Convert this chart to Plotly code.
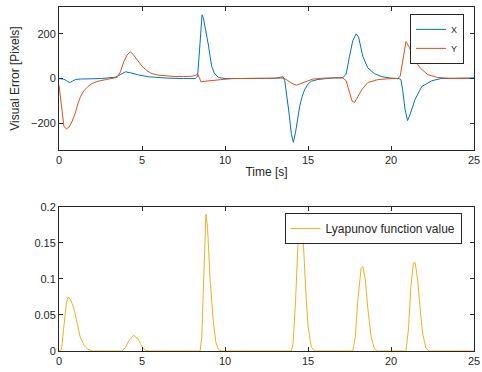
import plotly.graph_objects as go
from plotly.subplots import make_subplots

# ---- Visual error, X component ----
t_x = [0, 0.3, 0.5, 0.65, 0.8, 1.0, 1.3, 1.6, 2.0, 2.5, 3.0, 3.4, 3.7, 4.0, 4.3, 4.8, 5.4, 6.0, 6.5, 7.5,
       8.2, 8.35, 8.45, 8.55, 8.62, 8.7, 8.8, 8.9, 9.0, 9.1, 9.2, 9.35, 9.6, 10, 11, 12, 13, 13.35, 13.5,
       13.6, 13.7, 13.85, 14.0, 14.12, 14.25, 14.4, 14.5, 14.65, 14.8, 15.0, 15.2, 15.6, 16, 16.5, 17.1,
       17.3, 17.5, 17.7, 17.9, 18.05, 18.3, 18.6, 19.0, 19.45, 20.0, 20.5, 20.6, 20.7, 20.85, 21.0, 21.15,
       21.45, 21.85, 22.45, 23.0, 24.0, 25.0]
x_err = [0, -3, -12, -18, -12, -4, -2, -3, -1, 0, 2, 6, 18, 30, 26, 16, 8, 4, 2, 0,
         0, 10, 120, 250, 285, 270, 235, 200, 150, 100, 55, 25, 5, 0, 0, 0, 1, 6, 8,
         -10, -60, -150, -250, -285, -240, -165, -124, -80, -49, -25, -12, -4, 0, 3, 4,
         20, 100, 170, 200, 185, 100, 48, 22, 8, 2, 0, -5, -50, -140, -188, -160,
         -93, -36, -10, 0, 3, 3]

# ---- Visual error, Y component ----
t_y = [0, 0.1, 0.2, 0.3, 0.45, 0.6, 0.8, 1.0, 1.15, 1.3, 1.5, 1.75, 2.0, 2.35, 2.8, 3.2, 3.5, 3.7, 3.9,
       4.1, 4.3, 4.5, 4.75, 5.0, 5.3, 5.6, 6.0, 6.5, 7.0, 7.5, 8.0, 8.25, 8.35, 8.45, 8.55, 8.8, 9.2, 9.6,
       10.0, 10.5, 12, 13.0, 13.5, 13.7, 14.0, 14.3, 14.6, 15.0, 15.3, 16, 17.1, 17.3, 17.5, 17.65, 17.8,
       18.0, 18.25, 18.6, 19.2, 19.8, 20.4, 20.55, 20.7, 20.9, 21.1, 21.3, 21.5, 21.75, 22.2, 22.8, 23.5, 25]
y_err = [-30, -90, -170, -215, -225, -218, -190, -150, -110, -80, -55, -35, -22, -12, -5, -1, 5, 30, 75,
         105, 120, 105, 80, 55, 35, 22, 15, 11, 9, 9, 10, 15, 20, 5, -15, -12, -10, -8,
         -3, 0, 0, 1, 2, -5, -20, -30, -22, -8, -2, 2, 3, -10, -60, -100, -107,
         -80, -49, -18, -5, -1, 0, 10, 80, 165, 140, 107, 75, 48, 18, 5, 1, 0]

# ---- Lyapunov function ----
t_v = [0, 0.15, 0.3, 0.45, 0.55, 0.7, 0.85, 0.95, 1.1, 1.27, 1.5, 1.7, 2.0, 3.8, 4.0, 4.2, 4.5, 4.75, 5.0,
       5.2, 5.4, 8.5, 8.6, 8.7, 8.8, 8.85, 8.95, 9.1, 9.3, 9.45, 9.6, 9.8, 14.0, 14.1, 14.25, 14.4, 14.55,
       14.7, 14.85, 15.0, 15.2, 15.4, 17.7, 17.85, 18.0, 18.2, 18.3, 18.45, 18.6, 18.8, 19.0, 19.2, 20.9,
       21.05, 21.2, 21.35, 21.45, 21.6, 21.75, 21.9, 22.1, 22.3, 25]
lyap = [0, 0.002, 0.035, 0.068, 0.075, 0.071, 0.062, 0.054, 0.038, 0.02, 0.008, 0.003, 0, 0, 0.005, 0.014,
        0.022, 0.017, 0.006, 0.001, 0, 0, 0.02, 0.1, 0.175, 0.19, 0.17, 0.1, 0.04, 0.012, 0.002, 0, 0, 0.01,
        0.07, 0.15, 0.185, 0.16, 0.09, 0.035, 0.005, 0, 0, 0.02, 0.07, 0.115, 0.117, 0.1, 0.06, 0.02, 0.003,
        0, 0, 0.03, 0.09, 0.122, 0.123, 0.1, 0.06, 0.025, 0.004, 0, 0]

x_ticks = [0, 5, 10, 15, 20, 25]
err_ticks = [-200, 0, 200]
v_ticks = [0, 0.05, 0.1, 0.15, 0.2]
v_tick_labels = ["0", "0.05", "0.1", "0.15", "0.2"]

BLUE = "#0072BD"
ORANGE = "#D95319"
YELLOW = "#EDB120"
AX = "#262626"
FONT = "Liberation Sans, Arial, sans-serif"

fig = make_subplots(rows=2, cols=1, vertical_spacing=0.0)
fig.add_trace(go.Scatter(x=t_x, y=x_err, mode="lines", name="X",
                         line=dict(color=BLUE, width=1), legend="legend"), row=1, col=1)
fig.add_trace(go.Scatter(x=t_y, y=y_err, mode="lines", name="Y",
                         line=dict(color=ORANGE, width=1), legend="legend"), row=1, col=1)
fig.add_trace(go.Scatter(x=t_v, y=lyap, mode="lines", name="Lyapunov function value",
                         line=dict(color=YELLOW, width=1), legend="legend2"), row=2, col=1)

axis_common = dict(showgrid=False, zeroline=False, showline=True, linecolor=AX, linewidth=1,
                   mirror="ticks", ticks="inside", ticklen=4, tickcolor=AX, tickwidth=1,
                   automargin=False, ticklabeloverflow="allow",
                   tickfont=dict(size=11, color=AX, family=FONT))

fig.update_xaxes(range=[0, 25], tickvals=x_ticks, **axis_common)
fig.update_xaxes(title=dict(text="Time [s]", font=dict(size=12, color=AX, family=FONT), standoff=2),
                 row=1, col=1)
fig.update_yaxes(range=[-320, 320], tickvals=err_ticks, row=1, col=1,
                 title=dict(text="Visual Error [Pixels]", font=dict(size=12, color=AX, family=FONT),
                            standoff=8), **axis_common)
fig.update_yaxes(range=[0, 0.2], tickvals=v_ticks, ticktext=v_tick_labels, row=2, col=1, **axis_common)

fig.update_layout(
    width=482, height=372,
    margin=dict(l=59, r=8, t=7, b=21, autoexpand=False),
    paper_bgcolor="white", plot_bgcolor="white",
    font=dict(family=FONT, color=AX),
    xaxis=dict(domain=[0, 1]),
    yaxis=dict(domain=[0.584, 1.0]),
    xaxis2=dict(domain=[0, 1]),
    yaxis2=dict(domain=[0.0, 0.419]),
    legend=dict(x=0.976, y=0.98, xanchor="right", yanchor="top", bgcolor="white",
                bordercolor=AX, borderwidth=1, font=dict(size=9, color=AX, family=FONT),
                tracegroupgap=0, itemwidth=30),
    legend2=dict(x=0.97, y=0.401, xanchor="right", yanchor="top", bgcolor="white",
                 bordercolor=AX, borderwidth=1, font=dict(size=12, color=AX, family=FONT),
                 itemwidth=30),
    showlegend=True,
)

# remove the browser's default 8px body margin so the figure fills the window exactly
fig.write_html("out.html", config={"displayModeBar": False},
               post_script="document.body.style.margin='0';")
